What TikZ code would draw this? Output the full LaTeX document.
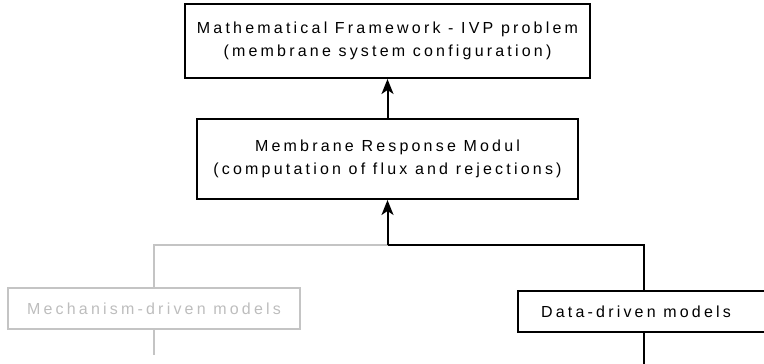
\documentclass[tikz,border=0pt]{standalone}
\usepackage{fontspec}
\setmainfont{Liberation Sans}
\newfontfamily\boxfont[LetterSpace=20]{Liberation Sans}
\usetikzlibrary{arrows.meta, positioning}
\definecolor{mechgray}{HTML}{C4C4C4}
\definecolor{mechtext}{HTML}{BDBDBD}

\begin{document}
\begin{tikzpicture}[
    x=1pt, y=-1pt,
    >=Stealth,
    every node/.style={font=\boxfont\fontsize{16}{23}\selectfont},
    modbox/.style={draw=black, line width=2pt, align=center, inner sep=0pt},
    mechbox/.style={modbox, draw=mechgray, text=mechtext},
    arw/.style={-{Stealth[length=15pt,width=12pt,inset=4pt]}, line width=2pt},
    conn/.style={line width=2pt},
    grayconn/.style={line width=2pt, mechgray},
]
\useasboundingbox (0,0) rectangle (764,364);

% === Main boxes ===
\node[modbox, minimum width=405pt, minimum height=74pt] (framework) at (387.5,41)
    {Mathematical Framework - IVP problem\\(membrane system configuration)};
\node[modbox, minimum width=381pt, minimum height=80pt] (response) at (387.5,159)
    {Membrane Response Modul\\(computation of flux and rejections)};

% === Model boxes ===
\coordinate (split) at (387.5,245);
\node[mechbox, minimum width=292pt, minimum height=41pt] (mech) at (154,308.5)
    {Mechanism-driven models};
\node[modbox, minimum width=252pt, minimum height=41pt] (data) at (644,311.5)
    {Data-driven models\hspace{16pt}};
\coordinate (mechend) at (154,355);
\coordinate (dataend) at (644,370);

% Connectors
\draw[grayconn] (split) -| (mech.north);
\draw[grayconn] (mech.south) -- (mechend);
\draw[conn] (split) -| (data.north);
\draw[conn] (data.south) -- (dataend);
\draw[arw] (split) -- (response.south);
\draw[arw] (response.north) -- (framework.south);

\end{tikzpicture}
\end{document}
